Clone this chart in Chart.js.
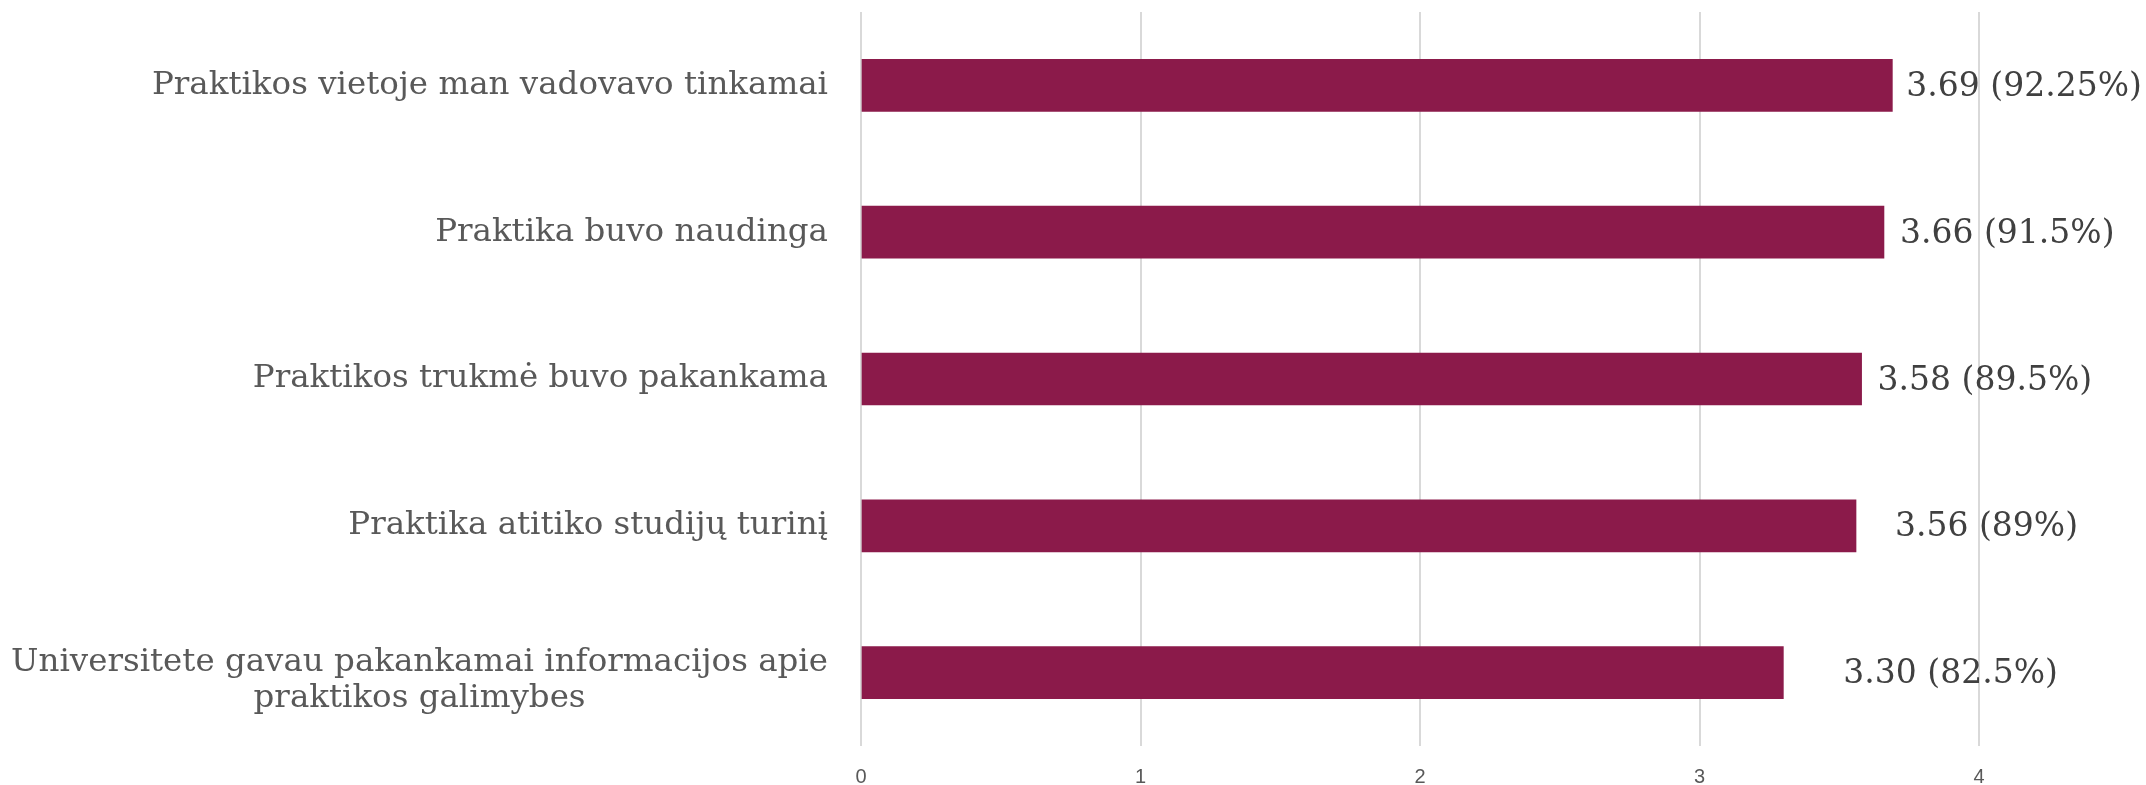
<!DOCTYPE html>
<html>
<head>
<meta charset="utf-8">
<script src="https://cdn.jsdelivr.net/npm/chart.js@4.4.1/dist/chart.umd.min.js"></script>
<style>
    html, body { margin: 0; padding: 0; background: #fff; }
    #wrap { width: 2146px; height: 785px; }
</style>
</head>
<body>
<div id="wrap"><canvas id="barChart"></canvas></div>
<script>
var categories = [
    'Praktikos vietoje man vadovavo tinkamai',
    'Praktika buvo naudinga',
    'Praktikos trukmė buvo pakankama',
    'Praktika atitiko studijų turinį',
    ['Universitete gavau pakankamai informacijos apie', 'praktikos galimybes']
];
var scores = [3.69, 3.66, 3.58, 3.56, 3.30];
var percents = [92.25, 91.5, 89.5, 89, 82.5];
var xTicks = [0, 1, 2, 3, 4];

// gap between bar end and its label, as placed in the original
var labelGap = [14, 16, 16, 39, 60];

var valueLabels = {
    id: 'valueLabels',
    afterDatasetsDraw: function(chart) {
        var ctx = chart.ctx;
        var meta = chart.getDatasetMeta(0);
        ctx.save();
        ctx.font = '33px "DejaVu Serif"';
        ctx.fillStyle = '#404040';
        ctx.textAlign = 'left';
        ctx.textBaseline = 'middle';
        meta.data.forEach(function(bar, i) {
            var text = scores[i].toFixed(2) + ' (' + percents[i] + '%)';
            ctx.fillText(text, bar.x + labelGap[i], bar.y + 2);
        });
        ctx.restore();
    }
};

// y labels: right aligned, wrapped lines centred on each other
var categoryLabels = {
    id: 'categoryLabels',
    afterDraw: function(chart) {
        var ctx = chart.ctx;
        var yScale = chart.scales.y;
        var right = chart.chartArea.left - 33;
        var lineH = 36;
        ctx.save();
        ctx.font = '32.5px "DejaVu Serif"';
        ctx.fillStyle = '#595959';
        ctx.textBaseline = 'middle';
        chart.data.labels.forEach(function(label, i) {
            var lines = Array.isArray(label) ? label : [label];
            var y = yScale.getPixelForValue(i);
            if (lines.length === 1) {
                ctx.textAlign = 'right';
                ctx.fillText(lines[0], right, y);
                return;
            }
            var widest = Math.max.apply(null, lines.map(function(l) { return ctx.measureText(l).width; }));
            var top = y + 8 - (lines.length - 1) * lineH / 2;
            ctx.textAlign = 'center';
            lines.forEach(function(l, j) {
                ctx.fillText(l, right - widest / 2, top + j * lineH);
            });
        });
        ctx.restore();
    }
};

new Chart(document.getElementById('barChart'), {
    type: 'bar',
    data: {
        labels: categories,
        datasets: [{
            data: scores,
            backgroundColor: '#8B1A4A',
            barThickness: 52
        }]
    },
    options: {
        indexAxis: 'y',
        responsive: true,
        maintainAspectRatio: false,
        animation: false,
        layout: { padding: { top: 12, left: 861, right: 167, bottom: 0 } },
        plugins: {
            legend: { display: false },
            tooltip: { enabled: false }
        },
        scales: {
            x: {
                min: xTicks[0],
                max: xTicks[xTicks.length - 1],
                ticks: {
                    stepSize: 1,
                    color: '#595959',
                    padding: 23,
                    font: { family: 'Liberation Sans', size: 20, lineHeight: 0.8 }
                },
                grid: { color: '#d9d9d9', lineWidth: 2, drawTicks: false },
                border: { display: false },
                afterFit: function(scale) { scale.height = 39; }
            },
            y: { display: false }
        }
    },
    plugins: [valueLabels, categoryLabels]
});
</script>
</body>
</html>
